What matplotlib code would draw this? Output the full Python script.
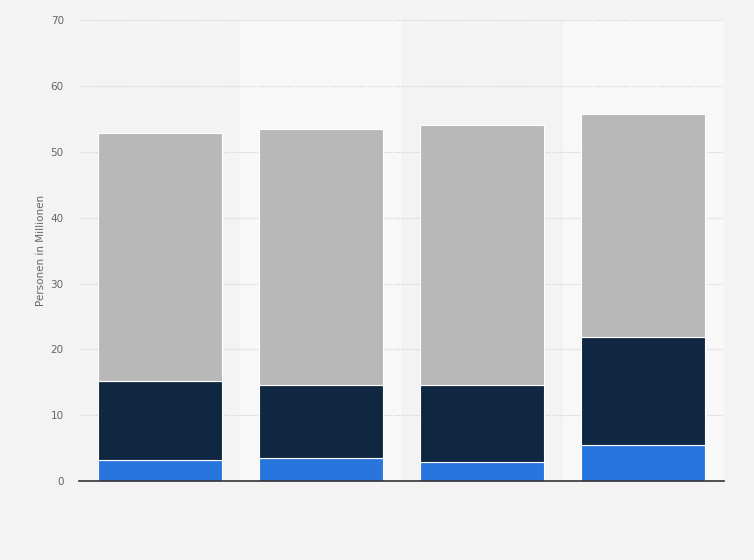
import numpy as np
import matplotlib.pyplot as plt

# values (millions of persons)
blue_vals = [3.2, 3.5, 2.9, 5.5]
navy_vals = [12.0, 11.1, 11.7, 16.4]
grey_vals = [37.6, 38.8, 39.5, 33.8]
yticks = [0, 10, 20, 30, 40, 50, 60, 70]

bg = '#f3f3f3'
fig = plt.figure(figsize=(7.54, 5.6), dpi=100, facecolor=bg)
ax = fig.add_axes([0.1048, 0.141, 0.855, 0.823])
ax.set_facecolor(bg)

x = np.arange(len(blue_vals))
for i in x:
    if i % 2 == 1:
        ax.axvspan(i - 0.5, i + 0.5, color='#f8f8f8', zorder=0, lw=0)

b1 = np.array(blue_vals)
b2 = b1 + np.array(navy_vals)
w = 0.77
ax.bar(x, blue_vals, width=w, color='#2876dd', edgecolor='white', linewidth=0.8, zorder=3)
ax.bar(x, navy_vals, width=w, bottom=b1, color='#0f2741', edgecolor='white', linewidth=0.8, zorder=3)
ax.bar(x, grey_vals, width=w, bottom=b2, color='#b8b8b8', edgecolor='white', linewidth=0.8, zorder=3)

ax.set_xlim(-0.5, len(blue_vals) - 0.5)
ax.set_ylim(0, 70)
ax.set_yticks(yticks)
ax.set_yticklabels([str(t) for t in yticks], color='#666666', fontsize=7.5)
ax.set_xticks([])
ax.tick_params(axis='y', length=0, pad=11)
ax.grid(axis='y', color='#cccccc', linestyle=(0, (1, 1.5)), linewidth=0.8, zorder=1)

for s in ['top', 'right', 'left']:
    ax.spines[s].set_visible(False)
ax.spines['bottom'].set_color('#333333')
ax.spines['bottom'].set_linewidth(1.2)
ax.spines['bottom'].set_zorder(4)

ax.set_ylabel('Personen in Millionen', color='#666666', fontsize=7.5, labelpad=3)

fig.savefig('out.png', dpi=100, facecolor=bg)
